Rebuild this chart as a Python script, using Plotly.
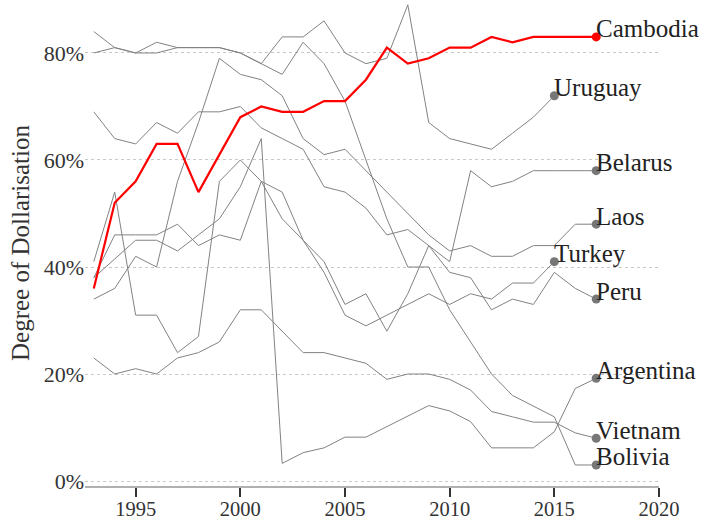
import plotly.graph_objects as go

years = list(range(1993, 2018))
years_short = list(range(1993, 2016))

cambodia = [36, 52, 56, 63, 63, 54, 61, 68, 70, 69, 69, 71, 71, 75, 81, 78, 79, 81, 81, 83, 82, 83, 83, 83, 83]
uruguay = [80, 81, 80, 80, 81, 81, 81, 80, 78, 83, 83, 86, 80, 78, 79, 89, 67, 64, 63, 62, 65, 68, 72]
belarus = [69, 64, 63, 67, 65, 69, 69, 70, 66, 64, 62, 55, 54, 51, 46, 47, 44, 41, 58, 55, 56, 58, 58, 58, 58]
laos = [34, 36, 42, 40, 56, 67, 79, 76, 75, 72, 64, 61, 62, 58, 54, 50, 46, 43, 44, 42, 42, 44, 44, 48, 48]
turkey = [38, 46, 46, 46, 48, 44, 46, 45, 56, 49, 45, 39, 31, 29, 31, 33, 35, 33, 35, 34, 37, 37, 41]
peru = [41, 54, 31, 31, 24, 27, 56, 60, 56, 54, 45, 41, 33, 35, 28, 35, 44, 39, 38, 32, 34, 33, 39, 36, 34]
argentina = [38, 41.5, 45, 45, 43, 46, 49, 55, 64, 3.3, 5.3, 6.2, 8.2, 8.2, 10.2, 12.1, 14.1, 13.1, 11.1, 6.2, 6.2, 6.2, 9.2, 17.3, 19.2]
vietnam = [23, 20, 21, 20, 23, 24, 26, 32, 32, 28, 24, 24, 23, 22, 19, 20, 20, 19, 17, 13, 12, 11, 11, 9, 8]
bolivia = [84, 81, 80, 82, 81, 81, 81, 80, 78, 76, 82, 78, 71, 60, 49, 40, 40, 32, 26, 20, 16, 14, 12, 3, 3]

x_ticks = [1995, 2000, 2005, 2010, 2015, 2020]
y_ticks = [0, 20, 40, 60, 80]
y_ticktext = ["0%", "20%", "40%", "60%", "80%"]

gray_series = [
    ("Uruguay", years_short, uruguay),
    ("Belarus", years, belarus),
    ("Laos", years, laos),
    ("Turkey", years_short, turkey),
    ("Peru", years, peru),
    ("Argentina", years, argentina),
    ("Vietnam", years, vietnam),
    ("Bolivia", years, bolivia),
]
red_series = ("Cambodia", years, cambodia)

FONT = "Liberation Serif"
GRAY = "#828282"
DOT_GRAY = "#777777"
RED = "#ff0000"

fig = go.Figure()
annotations = []

def add_series(name, xs, ys, color, width, dot_color):
    fig.add_trace(go.Scatter(x=xs, y=ys, mode="lines",
                             line=dict(color=color, width=width),
                             hoverinfo="skip", showlegend=False))
    fig.add_trace(go.Scatter(x=[xs[-1]], y=[ys[-1]], mode="markers",
                             marker=dict(color=dot_color, size=9),
                             cliponaxis=False, hoverinfo="skip", showlegend=False))
    annotations.append(dict(x=xs[-1], y=ys[-1], xref="x", yref="y", text=name,
                            showarrow=False, xanchor="left", yanchor="middle",
                            xshift=-2, yshift=8,
                            font=dict(family=FONT, size=25, color="#222222")))

for name, xs, ys in gray_series:
    add_series(name, xs, ys, GRAY, 1, DOT_GRAY)
add_series(*red_series, RED, 2.2, RED)

fig.update_layout(
    width=706, height=522,
    margin=dict(l=85, r=47, t=0, b=36),
    paper_bgcolor="white", plot_bgcolor="white",
    showlegend=False,
    annotations=annotations,
    font=dict(family=FONT, color="#333333"),
    xaxis=dict(range=[1992.58, 2020], tickvals=x_ticks, ticks="outside",
               ticklen=9, tickwidth=2, tickcolor="#333333",
               ticklabelstandoff=-5,
               showline=True, linecolor="#b0b0b0", linewidth=1.5,
               showgrid=False, zeroline=False, automargin=False,
               tickfont=dict(family=FONT, size=20.5, color="#333333")),
    yaxis=dict(range=[-0.93, 89.9], tickvals=y_ticks, ticktext=y_ticktext,
               showgrid=True, gridcolor="#c8c8c8", griddash="dot", gridwidth=1,
               zeroline=False, showline=False, ticks="", automargin=False,
               tickfont=dict(family=FONT, size=22, color="#333333"),
               title=dict(text="Degree of Dollarisation", standoff=6,
                          font=dict(family=FONT, size=25, color="#333333"))),
)

fig.write_html("out.html", config={"displayModeBar": False},
               post_script="document.body.style.margin='0';")
